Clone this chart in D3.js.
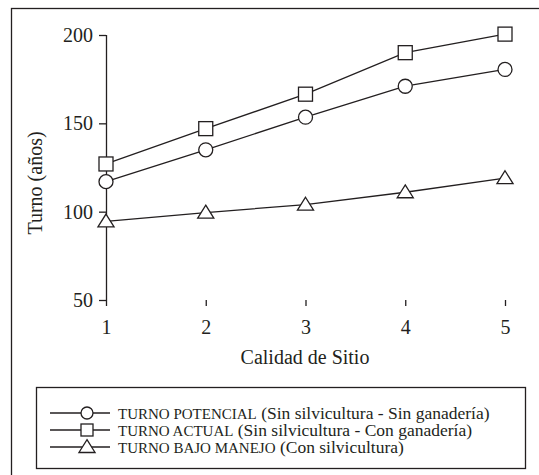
<!DOCTYPE html>
<html><head><meta charset="utf-8">
<script src="https://cdn.jsdelivr.net/npm/d3@7"></script>
</head><body style="margin:0;background:#fff">
<svg id="c" width="539" height="475" style="display:block"></svg>
<script>
const categories = [1, 2, 3, 4, 5];
const potencial = [117, 135, 153.5, 171, 180.5];
const actual = [127, 147, 166.5, 190, 200.5];
const bajoManejo = [94.5, 99.5, 104, 111, 119];
const yTicks = [50, 100, 150, 200];
const seriesNames = [
  ["TURNO POTENCIAL", " (Sin silvicultura - Sin ganadería)"],
  ["TURNO ACTUAL", " (Sin silvicultura - Con ganadería)"],
  ["TURNO BAJO MANEJO", " (Con silvicultura)"]
];
const xLabel = "Calidad de Sitio";
const yLabel = "Turno (años)";

const svg = d3.select("#c");
const ink = "#231f20";
const FF = "'Liberation Serif'";

svg.append("rect").attr("x", 11.5).attr("y", 8.5).attr("width", 600).attr("height", 600)
  .attr("fill", "none").attr("stroke", ink).attr("stroke-width", 1.3);

const x = d3.scaleLinear().domain([1, 5]).range([106, 505]);
const y = d3.scaleLinear().domain([50, 200]).range([300, 35]);

const gy = svg.append("g").attr("transform", "translate(106,0)")
  .call(d3.axisLeft(y).tickValues(yTicks).tickSize(7).tickPadding(6).tickSizeOuter(0));
const gx = svg.append("g").attr("transform", "translate(0,300)")
  .call(d3.axisBottom(x).tickValues(categories).tickFormat(d3.format("d")).tickSize(6).tickPadding(14).tickSizeOuter(0));
[gx, gy].forEach(g => {
  g.selectAll("path,line").attr("stroke", ink).attr("stroke-width", 1.3);
  g.selectAll("text").style("font-family", FF).style("font-size", "20px").attr("fill", ink);
});
gy.select("path").attr("d", "M0.5," + y(200) + "V" + y(50));
gx.select("path").attr("d", "M106," + 300.5 + "H505");

svg.append("text").attr("x", 305).attr("y", 364).attr("text-anchor", "middle")
  .style("font-family", FF).style("font-size", "20px").attr("fill", ink).text(xLabel);
svg.append("text").attr("transform", "translate(42,183) rotate(-90)").attr("text-anchor", "middle")
  .style("font-family", FF).style("font-size", "20px").attr("fill", ink).text(yLabel);

const line = d3.line().x((d, i) => x(categories[i])).y(d => y(d));
const allSeries = [potencial, actual, bajoManejo];
allSeries.forEach(s => {
  svg.append("path").attr("d", line(s)).attr("fill", "none").attr("stroke", ink).attr("stroke-width", 1.3);
});

function marker(g, type, cx, cy, sz) {
  if (type === 0) {
    g.append("circle").attr("cx", cx).attr("cy", cy).attr("r", sz)
      .attr("fill", "#fff").attr("stroke", ink).attr("stroke-width", 1.3);
  } else if (type === 1) {
    g.append("rect").attr("x", cx - sz).attr("y", cy - sz).attr("width", 2 * sz).attr("height", 2 * sz)
      .attr("fill", "#fff").attr("stroke", ink).attr("stroke-width", 1.3);
  } else {
    const h = sz * 1.75;
    g.append("path").attr("d", `M${cx},${cy - h * 0.6}L${cx + sz * 1.15},${cy + h * 0.45}L${cx - sz * 1.15},${cy + h * 0.45}Z`)
      .attr("fill", "#fff").attr("stroke", ink).attr("stroke-width", 1.3);
  }
}
allSeries.forEach((s, k) => {
  const g = svg.append("g");
  s.forEach((v, i) => marker(g, k, x(categories[i]), y(v), 7));
});

svg.append("rect").attr("x", 36.5).attr("y", 387.5).attr("width", 489).attr("height", 81)
  .attr("fill", "#fff").attr("stroke", ink).attr("stroke-width", 1.3);
const rows = [413, 430, 447];
seriesNames.forEach((nm, k) => {
  const g = svg.append("g");
  g.append("line").attr("x1", 50).attr("x2", 110).attr("y1", rows[k]).attr("y2", rows[k])
    .attr("stroke", ink).attr("stroke-width", 1.3);
  marker(g, k, 87, rows[k], k === 2 ? 7 : 6);
  const t = g.append("text").attr("x", 118).attr("y", rows[k] + 5.5)
    .attr("fill", ink).style("font-family", FF).style("font-size", "17.5px");
  t.append("tspan").style("font-size", "15px").text(nm[0]);
  t.append("tspan").text(nm[1]);
});
</script>
</body></html>
